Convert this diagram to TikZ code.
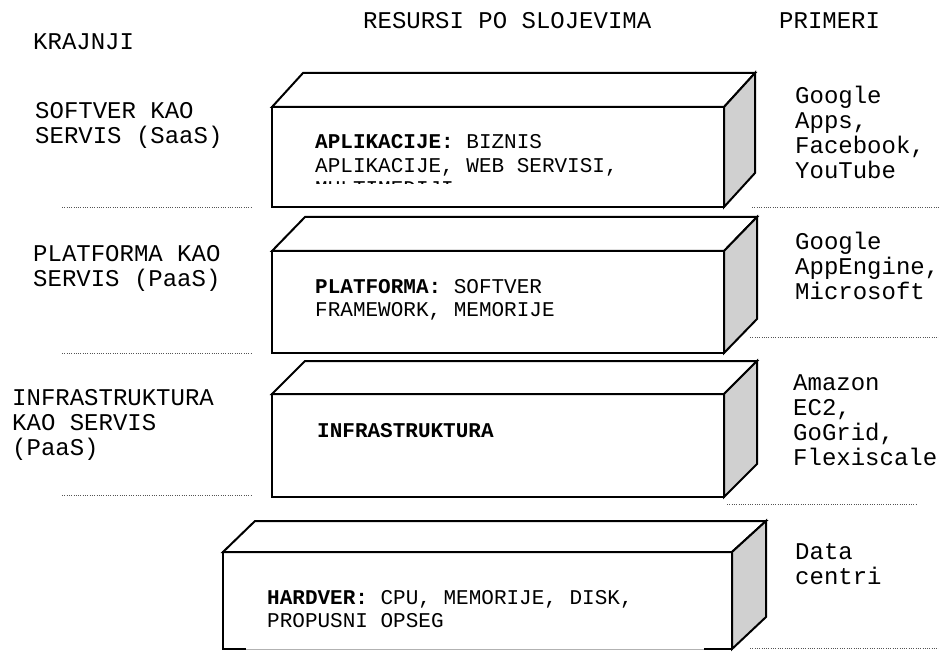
\documentclass[tikz,border=0pt]{standalone}
\usepackage{fontspec}
\setmainfont{Liberation Mono}
\definecolor{sidegray}{HTML}{D0D0D0}
\definecolor{dotgray}{HTML}{555555}
\begin{document}
\begin{tikzpicture}[x=1pt,y=-1pt,
  edge/.style={line width=2pt, line join=miter, draw=black},
  lbl/.style={font=\fontsize{24}{25}\selectfont, align=left, inner sep=0pt, anchor=base west},
  boxtxt/.style={font=\fontsize{21}{23.5}\selectfont, align=left, inner sep=0pt, anchor=base west},
  dotline/.style={line width=1pt, dash pattern=on 1pt off 1.3pt, draw=dotgray}]
\useasboundingbox[fill=white] (0,0) rectangle (939,660);
% #1 left, #2 right, #3 top, #4 bottom, #5 dx, #6 dy
\newcommand\slab[6]{%
  \draw[edge, fill=white] (#1,#3) rectangle (#2,#4);
  \draw[edge, fill=white] (#1,#3) -- ({#1+#5},{#3-#6}) -- ({#2+#5},{#3-#6}) -- (#2,#3) -- cycle;
  \draw[edge, fill=sidegray] (#2,#3) -- ({#2+#5},{#3-#6}) -- ({#2+#5},{#4-#6}) -- (#2,#4) -- cycle;
}
% headers
\node[lbl] (hkraj) at (33,50) {KRAJNJI};
\node[lbl] (hres) at (363,29) {RESURSI PO SLOJEVIMA};
\node[lbl] (hprim) at (779,29) {PRIMERI};
% boxes
\slab{272}{724}{107}{207}{31}{34}
\slab{272}{724}{251}{353}{33}{34}
\slab{272}{724}{394}{497}{33}{33}
% hardware box with partial bottom edge
\fill[white] (223,552) rectangle (732,649);
\draw[edge] (246,649) -- (223,649) -- (223,552) -- (732,552) -- (732,649) -- (704,649);
\draw[line width=1pt, draw=black!30] (246,649) -- (704,649);
\draw[edge, fill=white] (223,552) -- (255,521) -- (766,521) -- (732,552) -- cycle;
\draw[edge, fill=sidegray] (732,552) -- (766,521) -- (766,617) -- (732,649) -- cycle;
% box texts (anchor = baseline of last line)
\node[boxtxt] (tapl) at (315,172.5) {\textbf{APLIKACIJE:} BIZNIS\\APLIKACIJE, WEB SERVISI,};
\begin{scope}
  \clip (300,178) rectangle (700,183.6);
  \node[boxtxt] (tmulti) at (315,196) {MULTIMEDIJI};
\end{scope}
\node[boxtxt] (tplat) at (315,316.5) {\textbf{PLATFORMA:} SOFTVER\\FRAMEWORK, MEMORIJE};
\node[boxtxt] (tinfra) at (317,437) {\textbf{INFRASTRUKTURA}};
\node[boxtxt] (thard) at (267,627.5) {\textbf{HARDVER:} CPU, MEMORIJE, DISK,\\PROPUSNI OPSEG};
% left labels
\node[lbl] (lsaas) at (35,144) {SOFTVER KAO\\SERVIS (SaaS)};
\node[lbl] (lpaas) at (33,287) {PLATFORMA KAO\\SERVIS (PaaS)};
\node[lbl] (liaas) at (12,455) {INFRASTRUKTURA\\KAO SERVIS\\(PaaS)};
% right examples
\node[lbl] (rsaas) at (795,179) {Google\\Apps,\\Facebook,\\YouTube};
\node[lbl] (rpaas) at (795,299) {Google\\AppEngine,\\Microsoft};
\node[lbl] (riaas) at (793,465) {Amazon\\EC2,\\GoGrid,\\Flexiscale};
\node[lbl] (rhw) at (795,584) {Data\\centri};
% dotted separators
\coordinate (la1) at (62,208); \coordinate (lb1) at (252,208);
\coordinate (la2) at (62,353); \coordinate (lb2) at (252,353);
\coordinate (la3) at (62,495); \coordinate (lb3) at (252,495);
\coordinate (ra1) at (752,208); \coordinate (rb1) at (939,208);
\coordinate (ra2) at (750,337); \coordinate (rb2) at (939,337);
\coordinate (ra3) at (727,504); \coordinate (rb3) at (917,504);
\coordinate (ra4) at (750,648); \coordinate (rb4) at (939,648);
\foreach \a/\b in {la1/lb1,la2/lb2,la3/lb3,ra1/rb1,ra2/rb2,ra3/rb3,ra4/rb4}
  \draw[dotline] (\a) -- (\b);
\end{tikzpicture}
\end{document}
